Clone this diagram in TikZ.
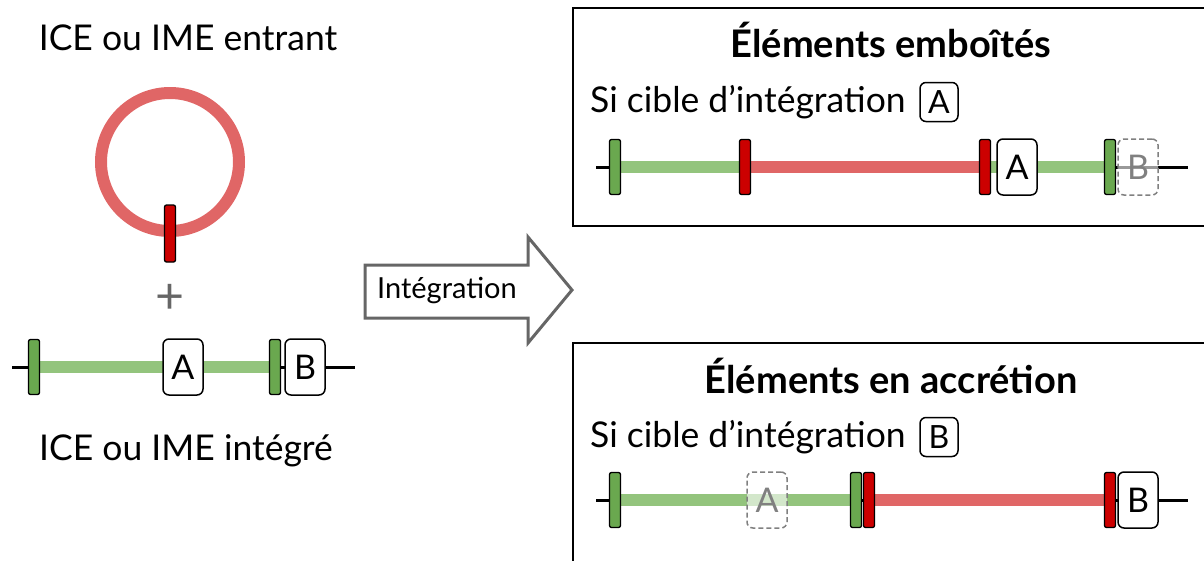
\documentclass[tikz,border=0pt]{standalone}
\usepackage{fontspec}
\setmainfont{Lato}
\usetikzlibrary{backgrounds}
\definecolor{gline}{HTML}{93C47D}
\definecolor{gmk}{HTML}{6AA84F}
\definecolor{rline}{HTML}{E06666}
\definecolor{rmk}{HTML}{CC0000}
\definecolor{arrgray}{HTML}{666666}
\begin{document}
\begin{tikzpicture}[x=1pt,y=-1pt,
  mk/.style={draw=black, line width=1.3pt, rounded corners=2pt, minimum width=11pt, minimum height=55pt, inner sep=0pt},
  gmark/.style={mk, fill=gmk},
  rmark/.style={mk, fill=rmk},
  site/.style={draw=black, line width=1.5pt, rounded corners=6pt, fill=white, minimum width=40pt, minimum height=56pt, inner sep=0pt, font=\fontsize{34}{34}\selectfont},
  ghost/.style={site, draw=gray, dashed, dash pattern=on 5pt off 3pt, text=gray, fill opacity=0.6, text opacity=1},
  smallsite/.style={site, minimum width=38pt, minimum height=39pt, font=\fontsize{32}{32}\selectfont},
  lbl/.style={font=\fontsize{35.5}{40}\selectfont, inner sep=0pt},
  ttl/.style={font=\fontsize{38}{42}\selectfont\bfseries, inner sep=0pt},
  base/.style={draw=black, line width=3pt},
  gbar/.style={draw=gline, line width=12pt},
  rbar/.style={draw=rline, line width=12pt},
  frame/.style={draw=black, line width=2pt}
]
\useasboundingbox (0,0) rectangle (1204,560);

% ---------- left side ----------
\node[lbl] (inTitle) at (188,38) {ICE ou IME entrant};
\draw[draw=rline, line width=12pt] (170,162) circle (69);
\node[rmark, minimum height=57pt] (circmk) at (170,233.5) {};
\node[font=\fontsize{50}{50}\selectfont, text=arrgray, inner sep=0pt] (plus) at (170,299) {+};

\coordinate (L0) at (12,367);
\coordinate (L1) at (355,367);
\node[gmark] (Lg1) at (34,367) {};
\node[site] (LA) at (183,367) {A};
\node[gmark] (Lg2) at (275,367) {};
\node[site] (LB) at (305,367) {B};
\begin{pgfonlayer}{background}
  \draw[base] (L0) -- (L1);
  \draw[gbar] (Lg1.center) -- (Lg2.center);
\end{pgfonlayer}
\node[lbl] (outTitle) at (186,451) {ICE ou IME intégré};

% ---------- arrow ----------
\draw[draw=arrgray, line width=3pt, fill=white, line join=miter]
  (365,265) -- (528,265) -- (528,237) -- (572,290) -- (528,343) -- (528,318) -- (365,318) -- cycle;
\node[font=\fontsize{29}{32}\selectfont, inner sep=0pt] (integ) at (447,291) {Intégration};

% ---------- top box ----------
\draw[frame] (573,8) rectangle (1230,226);
\node[ttl] (t1) at (891,40) {Éléments emboîtés};
\node[lbl, anchor=west] (s1) at (590,102) {Si cible d’intégration};
\node[smallsite] (s1A) at (939,102) {A};

\coordinate (T0) at (596,167);
\coordinate (T1) at (1188,167);
\node[gmark] (Tg1) at (615,167) {};
\node[rmark] (Tr1) at (745,167) {};
\node[rmark] (Tr2) at (985,167) {};
\node[site] (TA) at (1017,167) {A};
\node[gmark] (Tg2) at (1110,167) {};
\node[ghost] (TB) at (1138,167) {B};
\begin{pgfonlayer}{background}
  \draw[base] (T0) -- (T1);
  \draw[gbar] (Tg1.center) -- (Tg2.center);
  \draw[rbar] (Tr1.center) -- (Tr2.center);
\end{pgfonlayer}

% ---------- bottom box ----------
\draw[frame] (573,343) rectangle (1230,600);
\node[ttl] (t2) at (891,376) {Éléments en accrétion};
\node[lbl, anchor=west] (s2) at (590,437) {Si cible d’intégration};
\node[smallsite] (s2B) at (939,437) {B};

\coordinate (B0) at (596,500);
\coordinate (B1) at (1188,500);
\node[gmark] (Bg1) at (615,500) {};
\node[ghost] (BA) at (767,500) {A};
\node[gmark] (Bg2) at (856,500) {};
\node[rmark] (Br1) at (869,500) {};
\node[rmark] (Br2) at (1110,500) {};
\node[site] (BB) at (1138,500) {B};
\begin{pgfonlayer}{background}
  \draw[base] (B0) -- (B1);
  \draw[gbar] (Bg1.center) -- (Bg2.center);
  \draw[rbar] (Br1.center) -- (Br2.center);
\end{pgfonlayer}
\end{tikzpicture}
\end{document}
